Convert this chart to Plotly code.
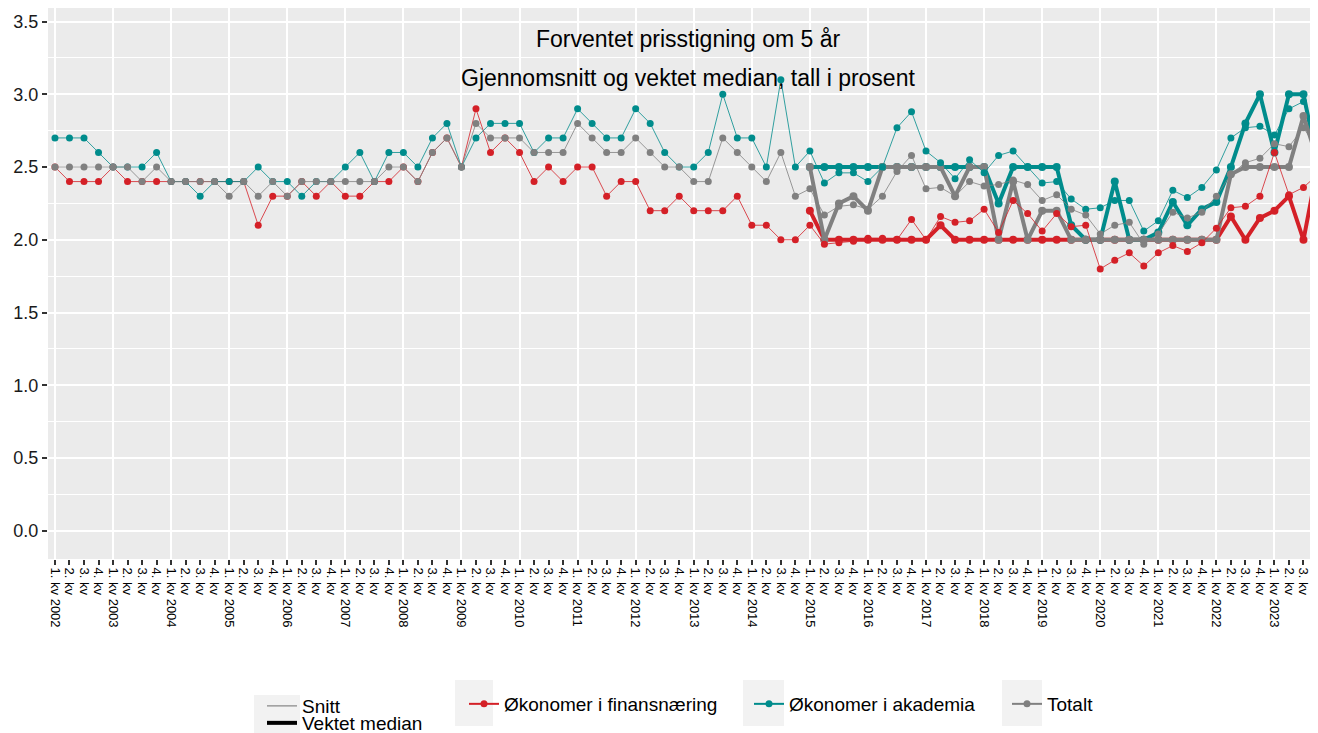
import plotly.graph_objects as go

# kvartaler 2002-2023
years = list(range(2002, 2024))
kvartal = ['1. kv', '2. kv', '3. kv', '4. kv']
labels = [f'{k} {y}' if k == '1. kv' else k for y in years for k in kvartal]
pos = list(range(len(labels)))
median_start = labels.index('1. kv 2015')

# Snitt (gjennomsnitt)
fin_snitt = [2.5, 2.4, 2.4, 2.4, 2.5, 2.4, 2.4, 2.4, 2.4, 2.4,
             2.4, 2.4, 2.4, 2.4, 2.1, 2.3, 2.3, 2.4, 2.3, 2.4,
             2.3, 2.3, 2.4, 2.4, 2.5, 2.4, 2.6, 2.7, 2.5, 2.9,
             2.6, 2.7, 2.6, 2.4, 2.5, 2.4, 2.5, 2.5, 2.3, 2.4,
             2.4, 2.2, 2.2, 2.3, 2.2, 2.2, 2.2, 2.3, 2.1, 2.1,
             2.0, 2.0, 2.10, 1.97, 1.98, 1.99, 2.01, 2.01, 2.0, 2.14,
             2.0, 2.16, 2.12, 2.13, 2.21, 2.05, 2.27, 2.18, 2.06, 2.18,
             2.09, 2.10, 1.80, 1.86, 1.91, 1.82, 1.91, 1.96, 1.92, 1.98,
             2.08, 2.22, 2.23, 2.30, 2.60, 2.31, 2.36, 2.45]
akad_snitt = [2.7, 2.7, 2.7, 2.6, 2.5, 2.5, 2.5, 2.6, 2.4, 2.4,
              2.3, 2.4, 2.4, 2.4, 2.5, 2.4, 2.4, 2.3, 2.4, 2.4,
              2.5, 2.6, 2.4, 2.6, 2.6, 2.5, 2.7, 2.8, 2.5, 2.7,
              2.8, 2.8, 2.8, 2.6, 2.7, 2.7, 2.9, 2.8, 2.7, 2.7,
              2.9, 2.8, 2.6, 2.5, 2.5, 2.6, 3.0, 2.7, 2.7, 2.5,
              3.1, 2.5, 2.61, 2.39, 2.46, 2.46, 2.40, 2.50, 2.77, 2.88,
              2.61, 2.53, 2.42, 2.55, 2.46, 2.58, 2.61, 2.50, 2.39, 2.40,
              2.28, 2.21, 2.22, 2.27, 2.27, 2.06, 2.13, 2.34, 2.29, 2.36,
              2.48, 2.70, 2.77, 2.78, 2.72, 2.90, 2.95, 2.60]
tot_snitt = [2.5, 2.5, 2.5, 2.5, 2.5, 2.5, 2.4, 2.5, 2.4, 2.4,
             2.4, 2.4, 2.3, 2.4, 2.3, 2.4, 2.3, 2.4, 2.4, 2.4,
             2.4, 2.4, 2.4, 2.5, 2.5, 2.4, 2.6, 2.7, 2.5, 2.8,
             2.7, 2.7, 2.7, 2.6, 2.6, 2.6, 2.8, 2.7, 2.6, 2.6,
             2.7, 2.6, 2.5, 2.5, 2.4, 2.4, 2.7, 2.6, 2.5, 2.4,
             2.6, 2.3, 2.35, 2.17, 2.23, 2.24, 2.21, 2.30, 2.47, 2.58,
             2.35, 2.36, 2.30, 2.40, 2.37, 2.38, 2.41, 2.38, 2.27, 2.31,
             2.21, 2.17, 2.04, 2.10, 2.12, 1.97, 2.04, 2.19, 2.15, 2.19,
             2.30, 2.45, 2.53, 2.56, 2.66, 2.64, 2.77, 2.62]

# Vektet median, fra 1. kv 2015
fin_median = [2.2, 2.0, 2.0, 2.0, 2.0, 2.0, 2.0, 2.0, 2.0, 2.1,
              2.0, 2.0, 2.0, 2.0, 2.0, 2.0, 2.0, 2.0, 2.0, 2.0,
              2.0, 2.0, 2.0, 2.0, 2.0, 2.0, 2.0, 2.0, 2.0, 2.16,
              2.0, 2.15, 2.2, 2.3, 2.0, 2.52]
akad_median = [2.5, 2.5, 2.5, 2.5, 2.5, 2.5, 2.5, 2.5, 2.5, 2.5,
               2.5, 2.5, 2.5, 2.25, 2.5, 2.5, 2.5, 2.5, 2.1, 2.0,
               2.0, 2.4, 2.0, 2.0, 2.05, 2.26, 2.1, 2.21, 2.26, 2.5,
               2.8, 3.0, 2.6, 3.0, 3.0, 2.52]
tot_median = [2.5, 2.0, 2.25, 2.3, 2.2, 2.5, 2.5, 2.5, 2.5, 2.5,
              2.3, 2.5, 2.5, 2.0, 2.4, 2.0, 2.2, 2.2, 2.0, 2.0,
              2.0, 2.0, 2.0, 2.0, 2.0, 2.0, 2.0, 2.0, 2.0, 2.45,
              2.5, 2.5, 2.5, 2.5, 2.85, 2.54]

series = [
    ('Økonomer i finansnæring', '#D42027', fin_snitt, fin_median, 'legend2'),
    ('Økonomer i akademia', '#008C8C', akad_snitt, akad_median, 'legend3'),
    ('Totalt', '#808080', tot_snitt, tot_median, 'legend4'),
]

FONT = 'Liberation Sans, Arial, sans-serif'
fig = go.Figure()

# tykke linjer (vektet median)
for name, col, snitt, median, lg in series:
    fig.add_trace(go.Scatter(
        x=pos[median_start:], y=median, mode='lines+markers',
        line=dict(color=col, width=4), marker=dict(color=col, size=8),
        showlegend=False, hoverinfo='skip'))

# tynne linjer (snitt)
for name, col, snitt, median, lg in series:
    fig.add_trace(go.Scatter(
        x=pos, y=snitt, mode='lines+markers',
        line=dict(color=col, width=0.8), marker=dict(color=col, size=7),
        showlegend=False, hoverinfo='skip'))

# legend-oppføringer
fig.add_trace(go.Scatter(x=[None], y=[None], mode='lines', name='Snitt',
                         line=dict(color='#9a9a9a', width=1.5), legend='legend'))
fig.add_trace(go.Scatter(x=[None], y=[None], mode='lines', name='Vektet median',
                         line=dict(color='black', width=4), legend='legend5'))
for name, col, snitt, median, lg in series:
    fig.add_trace(go.Scatter(x=[None], y=[None], mode='lines+markers', name=name,
                             line=dict(color=col, width=2), marker=dict(color=col, size=7),
                             legend=lg))

# hjelpeakse for årlige rutenettlinjer
fig.add_trace(go.Scatter(x=[], y=[], xaxis='x2', showlegend=False, hoverinfo='skip'))

# siden har 8 px marg rundt figuren; koordinater under er i vinduets piksler
OFF = 8
PLOT_L, PLOT_T, PLOT_B = 48, 8, 559
W, H = 1318 - OFF, 733 - OFF


def px_x(p):
    return (p - PLOT_L) / (1318 - PLOT_L)


def px_y(p):
    return (PLOT_B - p) / (PLOT_B - PLOT_T)


legend_common = dict(font=dict(family=FONT, size=19, color='black'),
                     bgcolor='rgba(0,0,0,0)', xanchor='left', yanchor='middle')

# grå bakgrunn bak legend-nøklene
shapes = []
for x0, x1, y0, y1 in [(254, 300, 695, 733), (455, 493, 680, 726),
                       (743, 784, 680, 726), (1002, 1042, 680, 726)]:
    shapes.append(dict(type='rect', xref='paper', yref='paper',
                       x0=px_x(x0), x1=px_x(x1), y0=px_y(y1), y1=px_y(y0),
                       fillcolor='#F2F2F2', line=dict(width=0), layer='below'))

fig.update_layout(
    width=W, height=H, autosize=False,
    margin=dict(l=PLOT_L - OFF, r=0, t=PLOT_T - OFF, b=H - (PLOT_B - OFF), autoexpand=False),
    paper_bgcolor='white', plot_bgcolor='#EBEBEB',
    font=dict(family=FONT, color='black'),
    shapes=shapes,
    xaxis=dict(range=[-0.48, 87.0], tickmode='array', tickvals=pos, ticktext=labels,
               tickangle=90, tickfont=dict(size=13, color='black'),
               ticks='outside', ticklen=5, tickwidth=2, tickcolor='#333333',
               showgrid=False, zeroline=False, showline=False, automargin=False),
    xaxis2=dict(overlaying='x', matches='x', anchor='y',
                tickmode='array', tickvals=pos[::4], showticklabels=False, ticks='',
                showgrid=True, gridcolor='white', gridwidth=2, zeroline=False,
                automargin=False),
    yaxis=dict(range=[-0.194, 3.593], tick0=0, dtick=0.5, tickformat='.1f',
               tickfont=dict(size=18, color='#1a1a1a'),
               ticks='outside', ticklen=5, tickwidth=2, tickcolor='#333333',
               showgrid=True, gridcolor='white', gridwidth=2, zeroline=False,
               automargin=False,
               minor=dict(tick0=0, dtick=0.25, showgrid=True, gridcolor='white',
                          gridwidth=1, ticks='')),
    legend=dict(x=px_x(262), y=px_y(706), **legend_common),
    legend5=dict(x=px_x(262), y=px_y(723), **legend_common),
    legend2=dict(x=px_x(464), y=px_y(704), **legend_common),
    legend3=dict(x=px_x(749), y=px_y(704), **legend_common),
    legend4=dict(x=px_x(1007), y=px_y(704), **legend_common),
    annotations=[
        dict(text='Forventet prisstigning om 5 år', xref='paper', yref='paper',
             x=px_x(688), y=px_y(24), showarrow=False, font=dict(size=23, color='black')),
        dict(text='Gjennomsnitt og vektet median, tall i prosent', xref='paper', yref='paper',
             x=px_x(688), y=px_y(63), showarrow=False, font=dict(size=23, color='black')),
    ],
)

# ingen rullefelt, så hele figuren vises
fig.write_html('out.html',
               post_script="document.documentElement.style.overflow='hidden';")
